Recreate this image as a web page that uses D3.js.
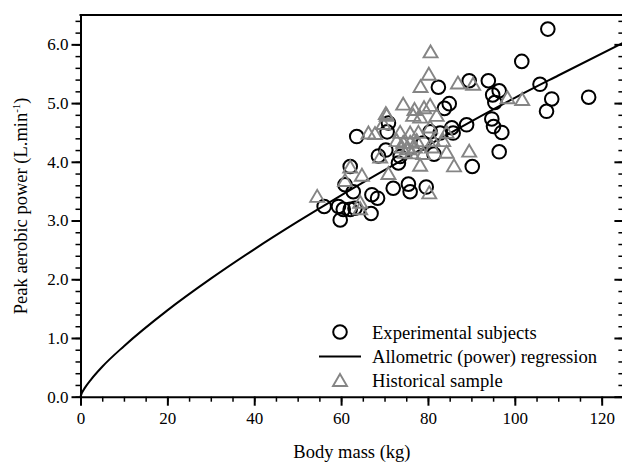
<!DOCTYPE html>
<html>
<head>
<meta charset="utf-8">
<script src="https://cdn.jsdelivr.net/npm/d3@7"></script>
<style>
  body { margin: 0; background: #fff; }
  svg { display: block; font-family: "Liberation Serif", "Times New Roman", serif; }
</style>
</head>
<body>
<div id="chart"></div>
<script>
// experimental subjects (circles)
const expMass = [107.6,101.6,105.8,108.5,107.3,117.0,89.5,93.9,96.4,94.9,95.4,82.4,84.9,83.8,88.9,94.7,95.1,97.0,96.4,90.2,85.5,85.8,63.6,70.9,70.6,70.3,68.6,73.6,73.2,81.4,80.5,82.8,78.9,62.1,60.9,62.8,72.0,75.5,75.9,79.6,67.1,68.4,56.1,59.4,60.5,62.1,63.2,59.8,66.9];
const expPower = [6.26,5.71,5.32,5.07,4.86,5.10,5.38,5.38,5.21,5.14,5.01,5.27,4.99,4.91,4.63,4.73,4.60,4.50,4.17,3.92,4.58,4.49,4.43,4.66,4.51,4.20,4.10,4.09,3.98,4.13,4.51,4.49,4.32,3.92,3.61,3.49,3.55,3.62,3.49,3.57,3.44,3.38,3.24,3.24,3.19,3.19,3.21,3.01,3.12];

// historical sample (triangles)
const histMass = [80.6,80.2,78.3,86.9,90.4,98.3,101.7,74.3,76.9,79.1,80.5,76.6,78.2,82.0,70.5,69.7,66.3,67.8,73.6,75.9,77.8,72.8,74.3,75.9,77.4,74.0,75.5,77.0,74.7,76.3,81.2,83.5,84.3,89.5,78.2,86.0,62.1,64.8,70.9,60.9,54.5,80.3,64.4,64.4,69.0,78.9,84.3,70.3,80.5,80.9];
const histPower = [5.88,5.50,5.29,5.35,5.33,5.10,5.07,4.99,4.90,4.93,4.97,4.80,4.77,4.80,4.80,4.66,4.50,4.49,4.51,4.50,4.51,4.37,4.34,4.34,4.37,4.26,4.23,4.26,4.17,4.16,4.37,4.37,4.17,4.19,3.95,3.94,3.92,3.78,3.81,3.69,3.42,3.48,3.32,3.21,4.09,4.15,4.51,4.83,4.60,4.26];

// allometric regression curve
const curveMass = [0, 0.3, 1, 2.5, 5, 10, 20, 30, 40, 50, 60, 70, 80, 90, 100, 110, 125];
const curvePower = [0, 0.06, 0.15, 0.30, 0.51, 0.86, 1.47, 2.01, 2.51, 2.98, 3.43, 3.86, 4.28, 4.69, 5.09, 5.47, 6.03];

const xTicks = [0, 20, 40, 60, 80, 100, 120];
const yTicks = [0, 1, 2, 3, 4, 5, 6];
const legendLabels = ["Experimental subjects", "Allometric (power) regression", "Historical sample"];

const width = 622;
const height = 465;
const margin = { top: 15, left: 80.5, bottom: 68.3, right: -1.4 };

const svg = d3.select("#chart").append("svg")
    .attr("width", width)
    .attr("height", height);

const x = d3.scaleLinear()
    .domain([0, 125])
    .range([margin.left, width - margin.right]);

const y = d3.scaleLinear()
    .domain([0, 6.5])
    .range([height - margin.bottom, margin.top]);

const minorX = d3.range(0, 125.01, 5);
const minorY = d3.range(0, 6.501, 0.2);

// bottom axis: minor ticks, then major ticks with labels
svg.append("g")
    .attr("transform", `translate(0,${y(0)})`)
    .call(d3.axisBottom(x).tickValues(minorX).tickSize(5).tickFormat(""))
    .call(g => g.select(".domain").remove())
    .selectAll("line").attr("stroke-width", 1.5);

const xAxis = svg.append("g")
    .attr("transform", `translate(0,${y(0)})`)
    .call(d3.axisBottom(x).tickValues(xTicks).tickSize(9).tickSizeOuter(0).tickPadding(6).tickFormat(d3.format("d")));
xAxis.select(".domain").attr("stroke-width", 2);
xAxis.selectAll("line").attr("stroke-width", 2);
xAxis.selectAll("text").attr("font-size", 17).attr("font-family", "Liberation Serif");

// left axis
svg.append("g")
    .attr("transform", `translate(${x(0)},0)`)
    .call(d3.axisLeft(y).tickValues(minorY).tickSize(5).tickFormat(""))
    .call(g => g.select(".domain").remove())
    .selectAll("line").attr("stroke-width", 1.5);

const yAxis = svg.append("g")
    .attr("transform", `translate(${x(0)},0)`)
    .call(d3.axisLeft(y).tickValues(yTicks).tickSize(9).tickSizeOuter(0).tickPadding(3).tickFormat(d3.format(".1f")));
yAxis.select(".domain").attr("stroke-width", 2);
yAxis.selectAll("line").attr("stroke-width", 2);
yAxis.selectAll("text").attr("font-size", 17).attr("font-family", "Liberation Serif");

// right axis, ticks pointing inward (mostly cut off by the frame)
const rightAxis = svg.append("g")
    .attr("transform", `translate(${x(125)},0)`);
rightAxis.append("g")
    .call(d3.axisLeft(y).tickValues(minorY).tickSize(5).tickFormat(""))
    .call(g => g.select(".domain").remove())
    .selectAll("line").attr("stroke-width", 1.5);
rightAxis.append("g")
    .call(d3.axisLeft(y).tickValues(yTicks).tickSize(9).tickSizeOuter(0).tickFormat(""))
    .selectAll("path, line").attr("stroke-width", 2);

// top frame line
svg.append("line")
    .attr("x1", x(0) - 1).attr("x2", width)
    .attr("y1", y(6.5)).attr("y2", y(6.5))
    .attr("stroke", "black")
    .attr("stroke-width", 2.2);

// experimental subjects
svg.append("g")
    .selectAll("circle")
    .data(d3.zip(expMass, expPower))
    .join("circle")
    .attr("cx", d => x(d[0]))
    .attr("cy", d => y(d[1]))
    .attr("r", 6.8)
    .attr("fill", "none")
    .attr("stroke", "black")
    .attr("stroke-width", 2);

// regression line
const line = d3.line()
    .x(d => x(d[0]))
    .y(d => y(d[1]))
    .curve(d3.curveMonotoneX);

svg.append("path")
    .datum(d3.zip(curveMass, curvePower))
    .attr("d", line)
    .attr("fill", "none")
    .attr("stroke", "black")
    .attr("stroke-width", 2);

// historical sample
const tri = "M0,-6L7,6L-7,6Z";
svg.append("g")
    .selectAll("path")
    .data(d3.zip(histMass, histPower))
    .join("path")
    .attr("d", tri)
    .attr("transform", d => `translate(${x(d[0])},${y(d[1])})`)
    .attr("fill", "none")
    .attr("stroke", "#858585")
    .attr("stroke-width", 1.9);

// legend
const legend = svg.append("g").attr("transform", "translate(340,0)");
const rowY = [332, 356.5, 380];
legend.append("circle")
    .attr("cx", 0).attr("cy", rowY[0]).attr("r", 6.8)
    .attr("fill", "none").attr("stroke", "black").attr("stroke-width", 2);
legend.append("line")
    .attr("x1", -21).attr("x2", 21)
    .attr("y1", rowY[1]).attr("y2", rowY[1])
    .attr("stroke", "black").attr("stroke-width", 2);
legend.append("path")
    .attr("d", tri)
    .attr("transform", `translate(0,${rowY[2]})`)
    .attr("fill", "none").attr("stroke", "#858585").attr("stroke-width", 1.9);
legend.selectAll("text")
    .data(legendLabels)
    .join("text")
    .attr("x", 32)
    .attr("y", (d, i) => rowY[i])
    .attr("dy", "0.35em")
    .attr("font-size", 18.6)
    .text(d => d);

// axis titles
svg.append("text")
    .attr("x", (x(0) + x(125)) / 2)
    .attr("y", 458)
    .attr("text-anchor", "middle")
    .attr("font-size", 18.5)
    .text("Body mass (kg)");

const yTitle = svg.append("text")
    .attr("transform", `translate(27,${(y(0) + y(6.5)) / 2}) rotate(-90)`)
    .attr("text-anchor", "middle")
    .attr("font-size", 18.5);
yTitle.append("tspan").text("Peak aerobic power (L.min");
yTitle.append("tspan").attr("font-size", 11).attr("dy", -7).text("-1");
yTitle.append("tspan").attr("dy", 7).text(")");
</script>
</body>
</html>
